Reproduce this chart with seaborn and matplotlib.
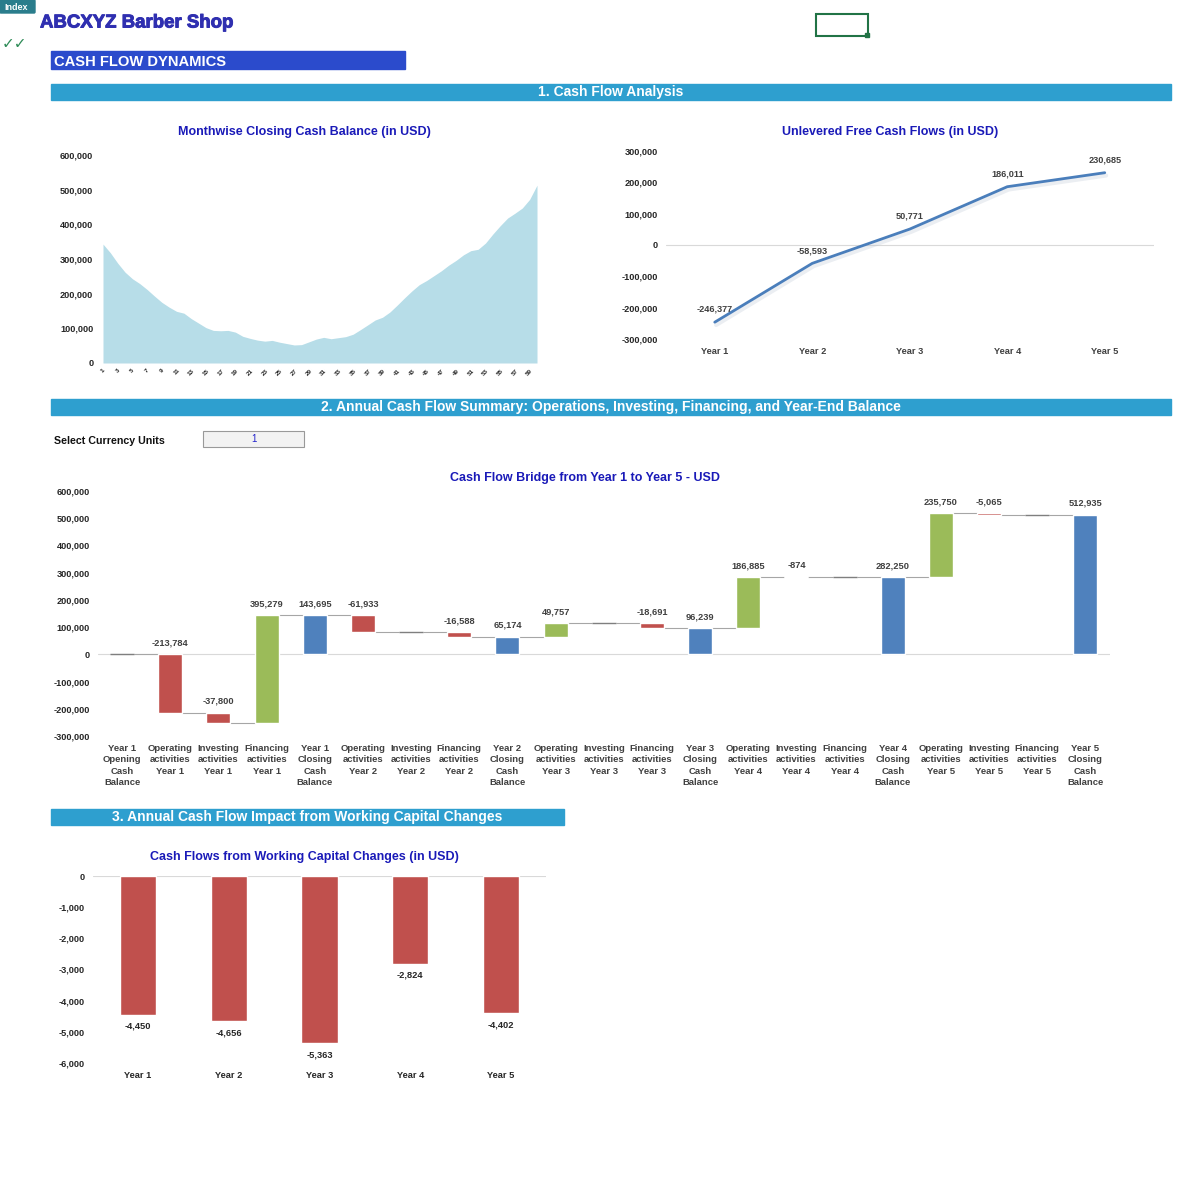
import numpy as np
import pandas as pd
import seaborn as sns
import matplotlib.pyplot as plt
import matplotlib.patheffects as pe
from matplotlib.patches import Rectangle, FancyBboxPatch

# ---- data ----
months = list(range(1, 61))
closing_cash = [343000, 318000, 288000, 262000, 243000, 229000, 212000, 193000, 175000, 161000, 149000, 143695,
                128000, 115000, 102000, 94000, 93000, 94000, 89000, 77000, 71000, 66000, 63000, 65174,
                60000, 56000, 52000, 53000, 61000, 69000, 74000, 70000, 73000, 76000, 83000, 96239,
                110000, 124000, 132000, 147000, 167000, 188000, 208000, 226000, 238000, 252000, 266000, 282250,
                296000, 312000, 324000, 328000, 346000, 372000, 396000, 418000, 432000, 447000, 472000, 512935]

fcf_years = ['Year 1', 'Year 2', 'Year 3', 'Year 4', 'Year 5']
fcf_values = [-246377, -58593, 50771, 186011, 230685]

bridge_labels = ['Year 1\nOpening\nCash\nBalance']
for y in range(1, 6):
    bridge_labels += ['Operating\nactivities\nYear %d' % y, 'Investing\nactivities\nYear %d' % y,
                      'Financing\nactivities\nYear %d' % y, 'Year %d\nClosing\nCash\nBalance' % y]
bridge_values = [0,
                 -213784, -37800, 395279, 143695,
                 -61933, 0, -16588, 65174,
                 49757, 0, -18691, 96239,
                 186885, -874, 0, 282250,
                 235750, -5065, 0, 512935]
bridge_kind = ['total'] + ['flow', 'flow', 'flow', 'total'] * 5

wc_years = ['Year 1', 'Year 2', 'Year 3', 'Year 4', 'Year 5']
wc_values = [-4450, -4656, -5363, -2824, -4402]

# ---- style ----
sns.set_theme(style='white')
plt.rcParams['font.family'] = ['Liberation Sans', 'DejaVu Sans']
plt.rcParams['font.weight'] = 'bold'

RED = '#c0504d'
GREEN = '#9bbb59'
BLUE = '#4f81bd'
SECTION = '#2e9fcf'
TITLE_BLUE = '#1a1ab8'
TICK = '#262626'
B = 'bold'

W = H = 1200
fig = plt.figure(figsize=(12, 12), dpi=100)


def px_axes(x0, y0, x1, y1):
    return fig.add_axes([x0 / W, 1 - y1 / H, (x1 - x0) / W, (y1 - y0) / H])


def thousands(v):
    return '{:,.0f}'.format(v)


# background layer in pixel coordinates
bg = fig.add_axes([0, 0, 1, 1], zorder=-1)
bg.set_xlim(0, W)
bg.set_ylim(H, 0)
bg.axis('off')

bg.add_patch(FancyBboxPatch((1, 1), 33, 11, boxstyle='round,pad=1', color='#2a7d8c'))
bg.text(16, 7.5, 'Index', color='white', fontsize=6.5, ha='center', va='center', fontweight=B)
bg.text(40, 23, 'ABCXYZ Barber Shop', color='#2f2fb0', fontsize=13.4, va='center', fontweight=B,
        path_effects=[pe.withStroke(linewidth=0.7, foreground='#2f2fb0')])
bg.text(2, 44, '✓✓', color='#2e8b57', fontsize=11, va='center', family=['DejaVu Sans'], style='italic')
bg.add_patch(Rectangle((816, 14), 52, 22, fill=False, edgecolor='#217346', lw=1.5))
bg.add_patch(Rectangle((865, 33), 4, 4, color='#217346'))

bg.add_patch(Rectangle((51, 51), 354, 18, color='#2b4bcc'))
bg.text(54, 61.5, 'CASH FLOW DYNAMICS', color='white', fontsize=10.6, va='center', fontweight=B)

sections = [(51, 84, 1171, '1. Cash Flow Analysis'),
            (51, 399, 1171, '2. Annual Cash Flow Summary: Operations, Investing, Financing, and Year-End Balance'),
            (51, 809, 564, '3. Annual Cash Flow Impact from Working Capital Changes')]
for x0, y0, x1, txt in sections:
    bg.add_patch(Rectangle((x0, y0), x1 - x0, 16, color=SECTION))
    bg.text((x0 + x1) / 2, y0 + 8, txt, color='white', fontsize=10, ha='center', va='center', fontweight=B)

bg.text(54, 441, 'Select Currency Units', color='#111111', fontsize=7.7, va='center', fontweight=B)
bg.add_patch(Rectangle((203, 431), 101, 16, facecolor='#f2f2f2', edgecolor='#999999', lw=0.8))
bg.text(254, 439, '1', color='#2222cc', fontsize=7, ha='center', va='center', fontweight='normal')

for x, y, txt in [(304, 132, 'Monthwise Closing Cash Balance (in USD)'),
                  (890, 132, 'Unlevered Free Cash Flows (in USD)'),
                  (585, 478, 'Cash Flow Bridge from Year 1 to Year 5 - USD'),
                  (304, 857, 'Cash Flows from Working Capital Changes (in USD)')]:
    bg.text(x, y, txt, color=TITLE_BLUE, fontsize=9, ha='center', va='center', fontweight=B)


def clean(ax):
    for s in ax.spines.values():
        s.set_visible(False)
    ax.set_xlabel('')
    ax.set_ylabel('')
    ax.set_facecolor('none')
    for lab in ax.get_xticklabels() + ax.get_yticklabels():
        lab.set_fontweight(B)


# ---- 1a: area chart of monthly closing balance ----
ax1 = px_axes(103, 155, 537, 363)
df_m = pd.DataFrame({'month': months, 'cash': closing_cash})
ax1.fill_between(df_m['month'], df_m['cash'], color='#b7dde8', lw=0)
ax1.set_xlim(1, 60)
ax1.set_ylim(0, 600000)
ax1.set_yticks(np.arange(0, 600001, 100000))
ax1.set_yticklabels([thousands(v) for v in np.arange(0, 600001, 100000)], fontsize=6.6, color=TICK)
ax1.set_xticks(months[::2])
ax1.set_xticklabels([str(m) for m in months[::2]], fontsize=4.5, rotation=45, color=TICK)
ax1.set_xticks(months, minor=True)
ax1.tick_params(axis='y', length=0, pad=7)
ax1.tick_params(axis='x', which='both', length=2.5, color='#d0d0d0', pad=1)
ax1.axhline(0, color='#d9d9d9', lw=0.8)
clean(ax1)

# ---- 1b: unlevered FCF line ----
ax2 = px_axes(666, 151, 1153.5, 339)
df_f = pd.DataFrame({'year': fcf_years, 'fcf': fcf_values})
ax2.axhline(0, color='#d9d9d9', lw=0.8, zorder=0)
sns.lineplot(data=df_f, x='year', y='fcf', ax=ax2, color='#4a7ebb', lw=2, sort=False,
             path_effects=[pe.SimpleLineShadow(offset=(1, -2), shadow_color='#b0bccc', alpha=0.25, linewidth=3),
                           pe.Normal()])
ax2.set_xlim(-0.5, 4.5)
ax2.set_ylim(-300000, 300000)
ax2.set_yticks(np.arange(-300000, 300001, 100000))
ax2.set_yticklabels([thousands(v) for v in np.arange(-300000, 300001, 100000)], fontsize=6.6, color=TICK)
ax2.tick_params(axis='both', length=0)
ax2.tick_params(axis='y', pad=6)
ax2.tick_params(axis='x', pad=6, labelsize=6.7, labelcolor='#404040')
for i, v in enumerate(fcf_values):
    ax2.annotate(thousands(v), (i, v), xytext=(0, 6), textcoords='offset points',
                 ha='center', va='bottom', fontsize=6.6, color='#404040', fontweight=B)
clean(ax2)

# ---- 2: waterfall bridge ----
ax3 = px_axes(98, 491, 1109.5, 736)
ax3.axhline(0, color='#d9d9d9', lw=0.8, zorder=0)
running = 0
ends = []
for i, (v, kind) in enumerate(zip(bridge_values, bridge_kind)):
    if kind == 'total':
        start, end = 0, v
        color = BLUE
        running = v
    else:
        start, end = running, running + v
        color = GREEN if v > 0 else RED
        running = end
    ends.append(end)
    lo, hi = min(start, end), max(start, end)
    if hi - lo > 0:
        ax3.bar(i, hi - lo, bottom=lo, width=0.5, color=color, zorder=2)
    else:
        ax3.hlines(end, i - 0.25, i + 0.25, color='#7f7f7f', lw=1, zorder=2)
    if v != 0:
        ax3.annotate(thousands(v), (i, hi), xytext=(0, 5), textcoords='offset points',
                     ha='center', va='bottom', fontsize=6.7, color='#404040', fontweight=B)
for i in range(len(ends) - 1):
    ax3.hlines(ends[i], i + 0.25, i + 0.75, color='#a6a6a6', lw=0.8, zorder=1)
ax3.set_xlim(-0.5, 20.5)
ax3.set_ylim(-300000, 600000)
ax3.set_yticks(np.arange(-300000, 600001, 100000))
ax3.set_yticklabels([thousands(v) for v in np.arange(-300000, 600001, 100000)], fontsize=6.6, color=TICK)
ax3.set_xticks(range(len(bridge_labels)))
ax3.set_xticklabels(bridge_labels, fontsize=6.8, color='#404040', linespacing=1.3, va='top')
ax3.tick_params(axis='both', length=0)
ax3.tick_params(axis='y', pad=6)
ax3.tick_params(axis='x', pad=6)
clean(ax3)

# ---- 3: working capital bars ----
ax4 = px_axes(92.6, 876, 546.4, 1063)
df_w = pd.DataFrame({'year': wc_years, 'wc': wc_values})
ax4.axhline(0, color='#d9d9d9', lw=0.8, zorder=0)
sns.barplot(data=df_w, x='year', y='wc', ax=ax4, color=RED, saturation=1, width=0.4, zorder=2)
for i, v in enumerate(wc_values):
    ax4.annotate(thousands(v), (i, v), xytext=(0, -5), textcoords='offset points',
                 ha='center', va='top', fontsize=6.7, color='#262626', fontweight=B)
ax4.set_xlim(-0.5, 4.5)
ax4.set_ylim(-6000, 0)
ax4.set_yticks(np.arange(-6000, 1, 1000))
ax4.set_yticklabels([thousands(v) for v in np.arange(-6000, 1, 1000)], fontsize=6.6, color=TICK)
ax4.tick_params(axis='both', length=0)
ax4.tick_params(axis='y', pad=6)
ax4.tick_params(axis='x', pad=6, labelsize=6.7, labelcolor='#262626')
clean(ax4)

fig.savefig('out.png', dpi=100, facecolor='white')
